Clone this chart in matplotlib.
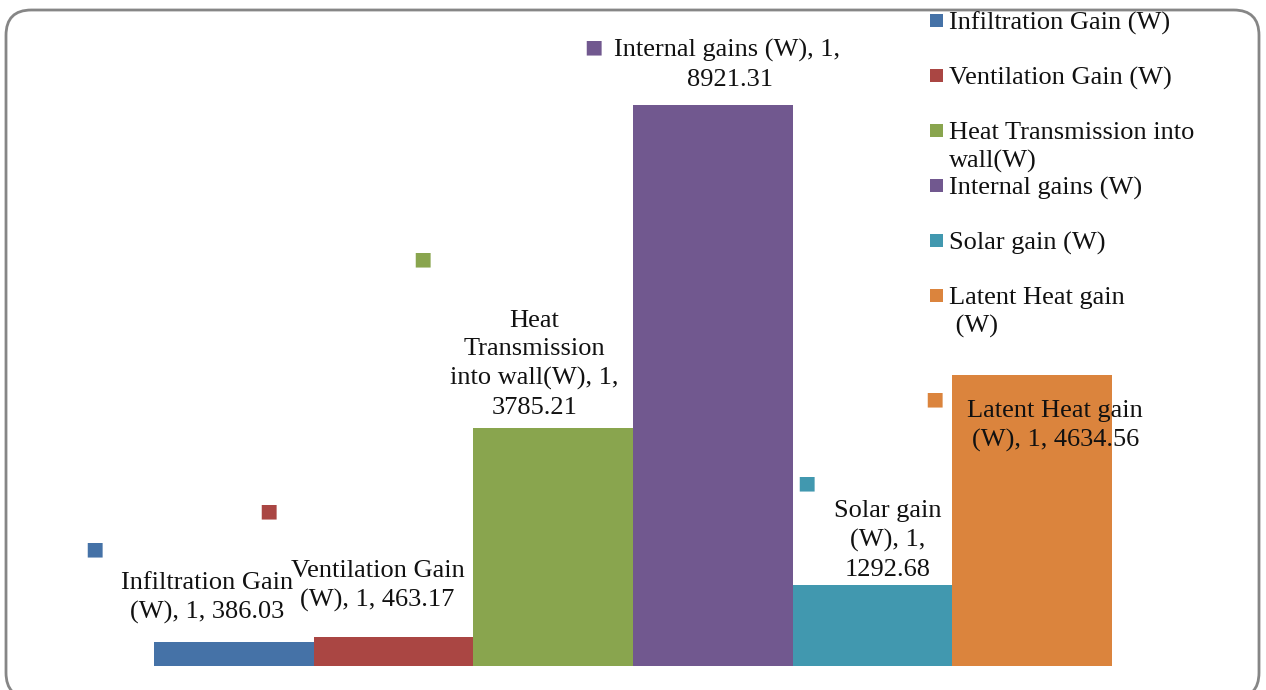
import matplotlib
matplotlib.use("Agg")
import matplotlib.pyplot as plt
from matplotlib.patches import FancyBboxPatch, Rectangle

series = ["Infiltration Gain (W)", "Ventilation Gain (W)", "Heat Transmission into wall(W)",
          "Internal gains (W)", "Solar gain (W)", "Latent Heat gain (W)"]
legend_labels = ["Infiltration Gain (W)", "Ventilation Gain (W)", "Heat Transmission into\nwall(W)",
                 "Internal gains (W)", "Solar gain (W)", "Latent Heat gain\n (W)"]
bar_labels = ["Infiltration Gain\n(W), 1, 386.03", "Ventilation Gain\n(W), 1, 463.17",
              "Heat\nTransmission\ninto wall(W), 1,\n3785.21", "Internal gains (W), 1,\n8921.31",
              "Solar gain\n(W), 1,\n1292.68", "Latent Heat gain\n(W), 1, 4634.56"]
values = [386.03, 463.17, 3785.21, 8921.31, 1292.68, 4634.56]
colors = ["#4572A7", "#AA4643", "#89A54E", "#71588F", "#4198AF", "#DB843D"]

W, H = 1266, 690
PT = 0.72  # points per pixel at 100 dpi
fig = plt.figure(figsize=(W / 100, H / 100), dpi=100)
fig.patch.set_facecolor("white")

# rounded chart frame
frame = FancyBboxPatch((6 / W, -8 / H), (1259 - 6) / W, (H - 10 + 8) / H,
                       boxstyle="round,pad=0,rounding_size=0.02",
                       transform=fig.transFigure, facecolor="none",
                       edgecolor="#868686", linewidth=2, mutation_aspect=W / H,
                       zorder=-1)
fig.patches.append(frame)

ax = fig.add_axes([154 / W, 24 / H, 958 / W, 656 / H])
ax.set_axis_off()
x = list(range(len(values)))
ax.bar(x, values, width=1.0, color=colors, linewidth=0)
ax.set_xlim(-0.5, 5.5)
ax.set_ylim(0, 10432)

font = dict(family="Liberation Serif", fontsize=19, color="#111111")

# data labels: (text-centre offset, square-marker offset) in pixels from bar top centre
label_offsets = [
    ((-27, 18), (-139, 93)),
    ((-16, 25), (-125, 126)),
    ((-19, 9), (-131, 169)),
    ((-3, 42), (-119, 58)),
    ((15, 4), (-66, 102)),
    ((23, -77), (-98, -24)),
]
for i, (lab, v) in enumerate(zip(bar_labels, values)):
    (tx, ty), (mx, my) = label_offsets[i]
    if i == 3:
        # this label starts left aligned next to its marker
        first, second = lab.split("\n")
        ax.annotate(first, xy=(i, v), xytext=(-99 * PT, 55 * PT),
                    textcoords="offset points", ha="left", va="center", **font)
        ax.annotate(second, xy=(i, v), xytext=(17 * PT, 25 * PT),
                    textcoords="offset points", ha="center", va="center", **font)
    else:
        ax.annotate(lab, xy=(i, v), xytext=(tx * PT, ty * PT),
                    textcoords="offset points", ha="center", va="bottom",
                    linespacing=1.39, multialignment="center", **font)
    ax.annotate("\u25A0", xy=(i, v), xytext=(mx * PT, my * PT),
                textcoords="offset points", ha="center", va="center",
                color=colors[i], fontsize=14, family="DejaVu Sans")

# legend on the right
for k, (lab, c) in enumerate(zip(legend_labels, colors)):
    ytop = 20 + 55 * k
    fig.patches.append(Rectangle((930 / W, 1 - (ytop + 7) / H), 13 / W, 13 / H,
                                 transform=fig.transFigure, facecolor=c, edgecolor="none"))
    fig.text(949 / W, 1 - (ytop - 8) / H, lab, ha="left", va="top",
             linespacing=1.33, **font)

fig.savefig("out.png", dpi=100)
